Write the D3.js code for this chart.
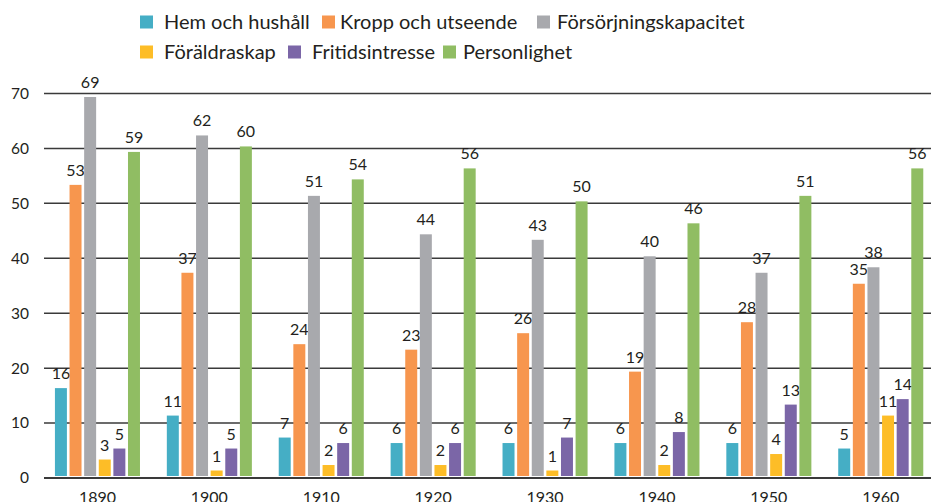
<!DOCTYPE html>
<html>
<head>
<meta charset="utf-8">
<script src="https://cdn.jsdelivr.net/npm/d3@7"></script>
<style>
  body { margin: 0; background: #fff; }
  svg { display: block; font-family: Lato, "Open Sans", sans-serif; }
</style>
</head>
<body>
<svg id="chart"></svg>
<script>
let decades = ['1890', '1900', '1910', '1920', '1930', '1940', '1950', '1960'];
let seriesNames = ['Hem och hushåll', 'Kropp och utseende', 'Försörjningskapacitet',
                   'Föräldraskap', 'Fritidsintresse', 'Personlighet'];
let seriesColors = ['#45aec5', '#f7964e', '#a8a9ad', '#fdbd27', '#7b66a7', '#90bd63'];

let hemOchHushall = [16, 11, 7, 6, 6, 6, 6, 5];
let kroppOchUtseende = [53, 37, 24, 23, 26, 19, 28, 35];
let forsorjning = [69, 62, 51, 44, 43, 40, 37, 38];
let foraldraskap = [3, 1, 2, 2, 1, 2, 4, 11];
let fritidsintresse = [5, 5, 6, 6, 7, 8, 13, 14];
let personlighet = [59, 60, 54, 56, 50, 46, 51, 56];

let yTicks = [0, 10, 20, 30, 40, 50, 60, 70];

let series = [hemOchHushall, kroppOchUtseende, forsorjning, foraldraskap, fritidsintresse, personlighet];

let width = 931;
let height = 502;

let svg = d3.select('#chart')
    .attr('width', width)
    .attr('height', height);

let y = d3.scaleLinear()
    .domain([0, 70])
    .range([478, 93.5]);

let x0 = d3.scaleBand()
    .domain(decades)
    .range([41.5, 936.7])
    .paddingInner(0.24)
    .paddingOuter(0.12);

let x1 = d3.scaleBand()
    .domain(d3.range(seriesNames.length))
    .range([0, x0.bandwidth()])
    .paddingInner(0.18)
    .paddingOuter(0);

// gridlines + y labels
let grid = svg.append('g');
grid.selectAll('line')
    .data(yTicks)
    .join('line')
    .attr('x1', 44)
    .attr('x2', width)
    .attr('y1', d => y(d))
    .attr('y2', d => y(d))
    .attr('stroke', '#3a3a3a')
    .attr('stroke-width', d => d === 0 ? 2 : 1.5);

grid.selectAll('text')
    .data(yTicks)
    .join('text')
    .attr('x', 29)
    .attr('y', d => y(d))
    .attr('dy', '0.35em')
    .attr('text-anchor', 'end')
    .attr('font-size', 15.5)
    .attr('fill', '#231f20')
    .text(d => d);

// bars
let groups = svg.append('g')
    .selectAll('g')
    .data(decades)
    .join('g')
    .attr('transform', d => `translate(${x0(d)},0)`);

let cells = groups.selectAll('g')
    .data((d, i) => series.map((s, k) => ({ k: k, value: s[i] })))
    .join('g');

cells.append('rect')
    .attr('x', d => x1(d.k))
    .attr('width', x1.bandwidth())
    .attr('y', d => y(d.value) - 2)
    .attr('height', d => y(0) - y(d.value))
    .attr('fill', d => seriesColors[d.k]);

cells.append('text')
    .attr('x', d => x1(d.k) + x1.bandwidth() / 2)
    .attr('y', d => y(d.value) - 11)
    .attr('text-anchor', 'middle')
    .attr('font-size', 16)
    .attr('fill', '#231f20')
    .text(d => d.value);

// x labels (cut by the bottom edge, as in the source)
svg.append('g')
    .selectAll('text')
    .data(decades)
    .join('text')
    .attr('x', d => x0(d) + x0.bandwidth() / 2)
    .attr('y', 503)
    .attr('text-anchor', 'middle')
    .attr('font-size', 16)
    .attr('fill', '#231f20')
    .text(d => d);

// legend
let legendPos = [[140, 22], [322, 22], [537, 22], [140, 52], [288, 52], [443, 52]];
let legend = svg.append('g')
    .selectAll('g')
    .data(seriesNames)
    .join('g')
    .attr('transform', (d, i) => `translate(${legendPos[i][0]},${legendPos[i][1]})`);

legend.append('rect')
    .attr('x', 0)
    .attr('y', -6.5)
    .attr('width', 13)
    .attr('height', 13)
    .attr('fill', (d, i) => seriesColors[i]);

legend.append('text')
    .attr('x', (d, i) => i === 1 ? 18 : (i === 2 || i === 5 ? 20 : 24))
    .attr('dy', '0.35em')
    .attr('font-size', 20)
    .attr('fill', '#231f20')
    .text(d => d);
</script>
</body>
</html>
